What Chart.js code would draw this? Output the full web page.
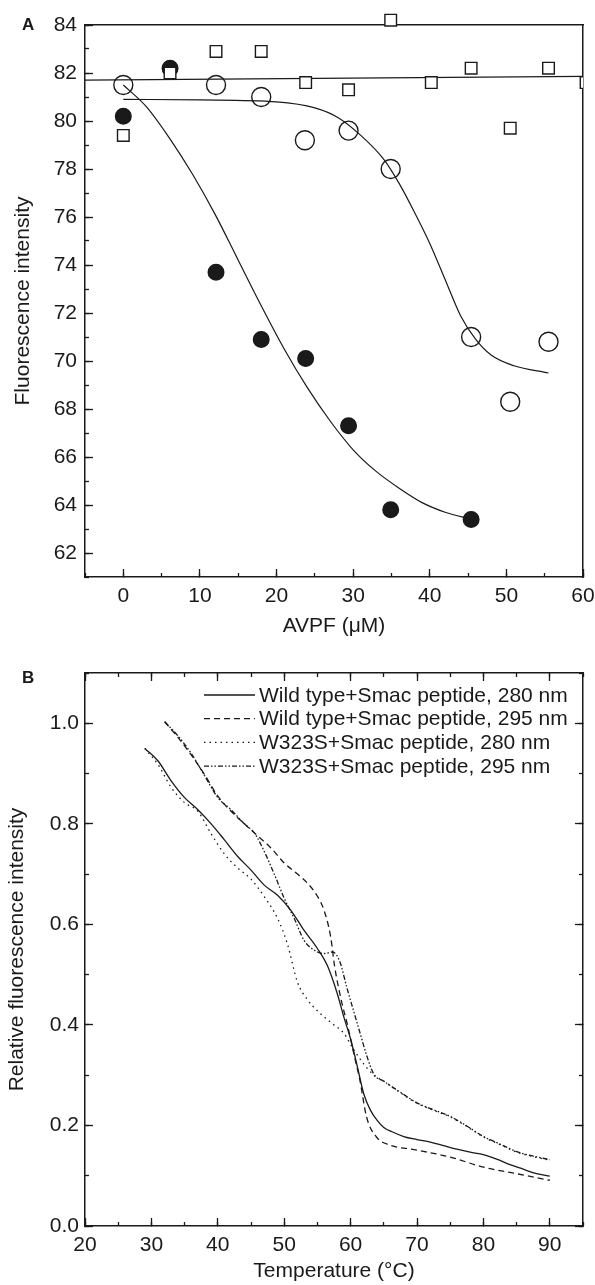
<!DOCTYPE html>
<html lang="en">
<head>
<meta charset="UTF-8">
<title>AVPF titration and thermal unfolding</title>
<script src="https://cdn.jsdelivr.net/npm/chart.js"></script>
<style>
    body { margin: 0; background: #fff; }
    .panel { position: absolute; left: 0; width: 595px; }
    #panelA { top: 0; height: 640px; }
    #panelB { top: 640px; height: 645px; }
    .tag { position: absolute; font: bold 17px "Liberation Sans", Arial, sans-serif; color: #1a1a1a; }
</style>
</head>
<body>
<div class="panel" id="panelA"><canvas id="titrationChart"></canvas></div>
<div class="panel" id="panelB"><canvas id="meltChart"></canvas></div>
<div class="tag" style="left:22px; top:15px">A</div>
<div class="tag" style="left:22px; top:668px">B</div>
<script>
// ---- Panel A: fluorescence vs AVPF concentration ----
const avpfFilled  = [0, 6.1, 12.1, 18.0, 23.8, 29.4, 34.9, 45.4];
const fluorFilled = [80.2, 82.2, 73.7, 70.9, 70.1, 67.3, 63.8, 63.4];
const avpfOpen    = [0, 12.1, 18.0, 23.7, 29.4, 34.9, 45.4, 50.5, 55.5];
const fluorOpen   = [81.5, 81.5, 81.0, 79.2, 79.6, 78.0, 71.0, 68.3, 70.8];
const avpfSquare  = [0, 6.1, 12.1, 18.0, 23.8, 29.4, 34.9, 40.2, 45.4, 50.5, 55.5, 60.4];
const fluorSquare = [79.4, 82.0, 82.9, 82.9, 81.6, 81.3, 84.2, 81.6, 82.2, 79.7, 82.2, 81.6];

// fitted curves
const fitFilledX = [0, 3, 6, 9, 12, 15, 18, 21, 24, 27, 30, 33, 36, 39, 42, 45.5];
const fitFilledY = [81.5, 80.6, 79.3, 77.8, 76.1, 74.2, 72.3, 70.5, 68.9, 67.5, 66.3, 65.4, 64.7, 64.1, 63.7, 63.4];
const fitOpenX = [0, 10, 20, 25, 28, 31, 34, 36, 38, 40, 42, 44, 46, 48, 51, 55.5];
const fitOpenY = [80.9, 80.88, 80.8, 80.55, 80.15, 79.4, 78.4, 77.4, 76.2, 74.9, 73.4, 71.9, 70.9, 70.25, 69.8, 69.5];
const fitSquareX = [-5, 60];
const fitSquareY = [81.7, 81.86];

// ---- Panel B: relative fluorescence vs temperature ----
const legendB = [
    'Wild type+Smac peptide, 280 nm',
    'Wild type+Smac peptide, 295 nm',
    'W323S+Smac peptide, 280 nm',
    'W323S+Smac peptide, 295 nm'
];
const tempWt280 = [29, 31, 33, 35, 37, 39, 41, 43, 45, 47, 49, 51, 53, 55, 56.5, 58, 59, 60, 61, 62, 63, 64, 65, 66.5, 68, 70, 72, 74, 76, 78, 80, 82, 84, 86, 88, 90];
const relWt280  = [0.950, 0.925, 0.885, 0.852, 0.828, 0.800, 0.768, 0.735, 0.708, 0.678, 0.658, 0.628, 0.588, 0.552, 0.518, 0.462, 0.415, 0.372, 0.318, 0.262, 0.230, 0.210, 0.196, 0.186, 0.178, 0.172, 0.167, 0.160, 0.153, 0.147, 0.142, 0.133, 0.122, 0.113, 0.104, 0.099];
const tempWt295 = [32, 34, 36, 38, 40, 42, 44, 46, 48, 50, 52, 53.5, 55, 56, 57, 57.6, 58.6, 59.6, 60.6, 61.4, 62.4, 63.9, 65.9, 70, 75, 80, 85, 90];
const relWt295  = [1.003, 0.972, 0.937, 0.898, 0.855, 0.825, 0.800, 0.776, 0.752, 0.722, 0.700, 0.682, 0.656, 0.628, 0.575, 0.516, 0.449, 0.396, 0.336, 0.290, 0.217, 0.177, 0.161, 0.151, 0.137, 0.117, 0.104, 0.091];
const tempMt280 = [29, 31, 33, 35, 37, 39, 41, 43, 45, 47, 49, 50.5, 52, 53.5, 55, 57, 59, 60.5, 62, 63.5, 65, 67.5, 70, 72.5, 75, 77.5, 80, 82.5, 85, 87.5, 90];
const relMt280  = [0.950, 0.918, 0.872, 0.842, 0.825, 0.780, 0.740, 0.712, 0.690, 0.655, 0.612, 0.560, 0.485, 0.450, 0.428, 0.405, 0.383, 0.350, 0.322, 0.300, 0.288, 0.265, 0.244, 0.230, 0.217, 0.198, 0.177, 0.162, 0.147, 0.138, 0.131];
const tempMt295 = [32, 34, 36, 38, 40, 42, 44, 45.5, 47, 48.5, 50, 51.5, 53, 54.5, 56, 57.3, 58.4, 59.4, 60.4, 61.4, 62.4, 63.5, 65, 67.5, 70, 72.5, 75, 77.5, 80, 82.5, 85, 87.5, 90];
const relMt295  = [1.003, 0.975, 0.940, 0.896, 0.852, 0.828, 0.800, 0.782, 0.745, 0.700, 0.652, 0.612, 0.568, 0.549, 0.542, 0.545, 0.525, 0.476, 0.430, 0.385, 0.340, 0.302, 0.288, 0.266, 0.245, 0.231, 0.218, 0.199, 0.178, 0.163, 0.148, 0.139, 0.132];

const ink = '#1a1a1a';
const fontSize = 21;
Chart.defaults.font.family = '"Liberation Sans", Arial, Helvetica, sans-serif';
Chart.defaults.color = ink;

const pts = (xs, ys) => xs.map((x, i) => ({ x: x, y: ys[i] }));

// axis with labels, title and long inward ticks
function labelAxis(position, min, max, step, title, size, tickPad, titlePad, fmt) {
    return {
        type: 'linear', position: position, min: min, max: max, weight: 1,
        border: { display: true, color: ink, width: 1.5 },
        grid: { drawOnChartArea: false, tickLength: -8, tickColor: ink, tickWidth: 1.3 },
        ticks: {
            stepSize: step, includeBounds: false, autoSkip: false, maxTicksLimit: 1000,
            maxRotation: 0, padding: tickPad, color: ink, font: { size: fontSize },
            callback: fmt || (v => v)
        },
        title: { display: true, text: title, color: ink, font: { size: fontSize }, padding: titlePad },
        afterFit: s => {
            if (s.isHorizontal()) s.height = size; else s.width = size;
            // keep edge labels from shrinking the plot area
            s.paddingLeft = s.paddingRight = s.paddingTop = s.paddingBottom = 0;
        }
    };
}

// extra axis of zero size, only for frame lines and minor / mirrored ticks
function tickAxis(position, min, max, step, len, frame) {
    return {
        type: 'linear', position: position, min: min, max: max, weight: 0,
        border: { display: frame, color: ink, width: 1.5 },
        grid: { drawOnChartArea: false, drawTicks: len > 0, tickLength: -len, tickColor: ink, tickWidth: 1.3 },
        ticks: { display: false, stepSize: step, includeBounds: false, autoSkip: false, maxTicksLimit: 1000 },
        afterFit: s => {
            if (s.isHorizontal()) s.height = 0; else s.width = 0;
            s.paddingLeft = s.paddingRight = s.paddingTop = s.paddingBottom = 0;
        }
    };
}

// legend drawn inside the plot, top right
const insideLegend = {
    id: 'insideLegend',
    afterDraw(chart, args, o) {
        if (!o.show) return;
        const ctx = chart.ctx;
        const a = chart.chartArea;
        ctx.save();
        ctx.font = fontSize + 'px "Liberation Sans", Arial, sans-serif';
        ctx.textBaseline = 'middle';
        chart.data.datasets.forEach((ds, i) => {
            const y = a.top + o.top + i * o.row;
            const x = a.left + o.left;
            ctx.strokeStyle = ds.borderColor;
            ctx.lineWidth = ds.borderWidth;
            ctx.setLineDash(ds.borderDash || []);
            ctx.beginPath();
            ctx.moveTo(x, y);
            ctx.lineTo(x + o.lineLen, y);
            ctx.stroke();
            ctx.fillStyle = ink;
            ctx.fillText(ds.label, x + o.lineLen + o.gap, y + 1);
        });
        ctx.restore();
    }
};

const markers = { borderColor: ink, borderWidth: 1.4, pointHoverRadius: 8 };
const fitLine = { showLine: true, pointRadius: 0, borderColor: ink, borderWidth: 1.2, cubicInterpolationMode: 'monotone' };

new Chart(document.getElementById('titrationChart'), {
    type: 'scatter',
    data: {
        datasets: [
            { label: 'Open squares', data: pts(avpfSquare, fluorSquare), pointStyle: 'rect', pointRadius: 8.2,
              backgroundColor: '#fff', clip: { left: 0, top: false, right: 0, bottom: 0 }, ...markers },
            { label: 'Open circles', data: pts(avpfOpen, fluorOpen), pointStyle: 'circle', pointRadius: 9.5,
              backgroundColor: 'rgba(0,0,0,0)', ...markers },
            { label: 'Filled circles', data: pts(avpfFilled, fluorFilled), pointStyle: 'circle', pointRadius: 7.8,
              backgroundColor: ink, ...markers },
            { label: 'Fit squares', data: pts(fitSquareX, fitSquareY), ...fitLine },
            { label: 'Fit open circles', data: pts(fitOpenX, fitOpenY), ...fitLine },
            { label: 'Fit filled circles', data: pts(fitFilledX, fitFilledY), ...fitLine }
        ]
    },
    options: {
        responsive: true,
        maintainAspectRatio: false,
        animation: false,
        layout: { padding: { left: 0, top: 25, right: 12, bottom: 0 } },
        plugins: { legend: { display: false }, tooltip: { enabled: false }, insideLegend: { show: false } },
        scales: {
            x: labelAxis('bottom', -5, 60, 10, 'AVPF (\u03bcM)', 63, 15, { top: 0, bottom: 1 }),
            xMinor: tickAxis('bottom', -5, 60, 5, 4, false),
            xTop: tickAxis('top', -5, 60, 10, 0, true),
            y: labelAxis('left', 61, 84, 2, 'Fluorescence intensity', 85, 16, { top: 11, bottom: 0 }),
            yMinor: tickAxis('left', 61, 84, 1, 4, false),
            yRight: tickAxis('right', 61, 84, 2, 0, true)
        }
    },
    plugins: [insideLegend]
});

const curve = { showLine: true, pointRadius: 0, borderColor: ink, borderWidth: 1.3, cubicInterpolationMode: 'monotone' };

new Chart(document.getElementById('meltChart'), {
    type: 'scatter',
    data: {
        datasets: [
            { label: legendB[0], data: pts(tempWt280, relWt280), borderDash: [], ...curve },
            { label: legendB[1], data: pts(tempWt295, relWt295), borderDash: [6, 4], ...curve },
            { label: legendB[2], data: pts(tempMt280, relMt280), borderDash: [1.5, 4], ...curve },
            { label: legendB[3], data: pts(tempMt295, relMt295), borderDash: [5, 2, 1.5, 2, 1.5, 2], ...curve }
        ]
    },
    options: {
        responsive: true,
        maintainAspectRatio: false,
        animation: false,
        layout: { padding: { left: 0, top: 33, right: 12, bottom: 0 } },
        plugins: {
            legend: { display: false },
            tooltip: { enabled: false },
            insideLegend: { show: true, left: 119, top: 22, row: 23.7, lineLen: 51, gap: 4 }
        },
        scales: {
            x: labelAxis('bottom', 20, 95, 10, 'Temperature (\u00b0C)', 59, 15, { top: 0, bottom: 1 }),
            xMinor: tickAxis('bottom', 20, 95, 5, 4, false),
            xTop: tickAxis('top', 20, 95, 10, 8, true),
            xTopMinor: tickAxis('top', 20, 95, 5, 4, false),
            y: labelAxis('left', 0, 1.1, 0.2, 'Relative fluorescence intensity', 85, 14, { top: 5, bottom: 0 }, v => v.toFixed(1)),
            yMinor: tickAxis('left', 0, 1.1, 0.1, 4, false),
            yRight: tickAxis('right', 0, 1.1, 0.2, 8, true),
            yRightMinor: tickAxis('right', 0, 1.1, 0.1, 4, false)
        }
    },
    plugins: [insideLegend]
});
</script>
</body>
</html>
